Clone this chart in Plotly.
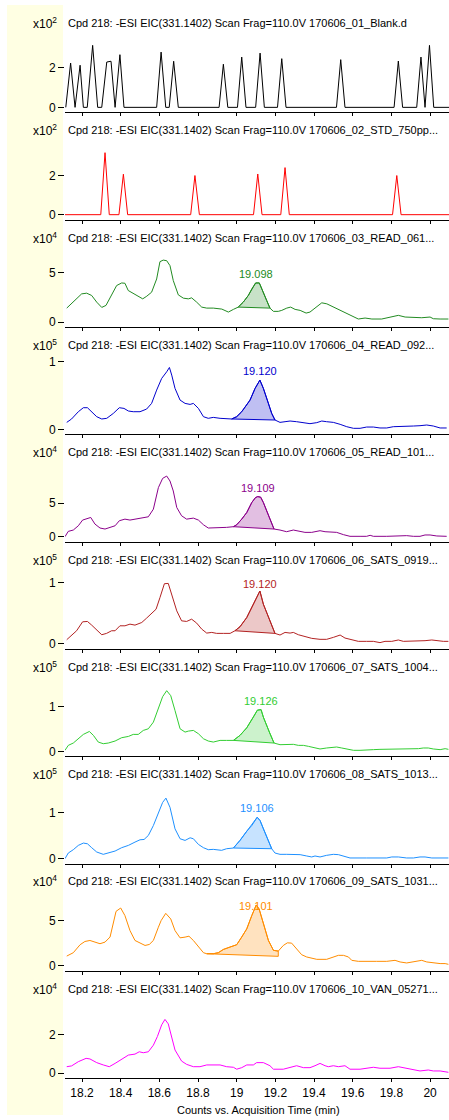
import plotly.graph_objects as go

# ---------------- data ----------------
TITLE_PREFIX = "Cpd 218: -ESI EIC(331.1402) Scan Frag=110.0V "
SAMPLES = [
    "170606_01_Blank.d",
    "170606_02_STD_750pp...",
    "170606_03_READ_061...",
    "170606_04_READ_092...",
    "170606_05_READ_101...",
    "170606_06_SATS_0919...",
    "170606_07_SATS_1004...",
    "170606_08_SATS_1013...",
    "170606_09_SATS_1031...",
    "170606_10_VAN_05271...",
]
EXPONENTS = [2, 2, 4, 5, 4, 5, 5, 5, 4, 4]
Y_TICK_TOP = [2, 2, 5, 1, 5, 1, 1, 1, 5, 2]
Y_TOP = [3.5, 3.59, 7.0, 1.03, 10.4, 1.136, 1.556, 1.502, 7.67, 3.59]
COLORS = ["#000000", "#ff0000", "#228b22", "#0000cd", "#8b008b",
          "#b22222", "#32cd32", "#1e90ff", "#ff8c00", "#ff00ff"]

X_TICKS = [18.2, 18.4, 18.6, 18.8, 19.0, 19.2, 19.4, 19.6, 19.8, 20.0]
X_TICK_TEXT = ["18.2", "18.4", "18.6", "18.8", "19", "19.2", "19.4", "19.6", "19.8", "20"]

# 01 Blank
T01 = [18.116, 18.141, 18.164, 18.190, 18.207, 18.227, 18.255, 18.281, 18.302, 18.328,
       18.350, 18.371, 18.396, 18.417, 18.586, 18.609, 18.633, 18.651, 18.674, 18.698,
       18.909, 18.931, 18.954, 19.004, 19.026, 19.048, 19.098, 19.121, 19.143, 19.211,
       19.233, 19.255, 19.516, 19.538, 19.560, 19.814, 19.836, 19.858, 19.931, 19.953,
       19.974, 19.997, 20.019, 20.098]
I01 = [0, 2.23, 0, 2.12, 0, 0, 3.12, 0, 0, 2.28,
       2.32, 0, 2.65, 0, 0, 2.78, 0, 0, 2.32, 0,
       0, 2.17, 0, 0, 2.53, 0, 0, 2.73, 0, 0,
       2.45, 0, 0, 2.40, 0, 0, 2.33, 0, 0, 2.53,
       0, 3.12, 0, 0]

# 02 STD
T02 = [18.112, 18.297, 18.319, 18.341, 18.391, 18.414, 18.436, 18.762, 18.784, 18.807,
       19.087, 19.109, 19.131, 19.228, 19.250, 19.272, 19.806, 19.828, 19.850, 20.098]
I02 = [0, 0, 3.20, 0, 0, 2.09, 0, 0, 2.02, 0,
       0, 2.10, 0, 0, 2.43, 0, 0, 2.02, 0, 0]

# 03 READ_061
T03 = [18.121, 18.164, 18.198, 18.224, 18.250, 18.276, 18.302, 18.324, 18.350, 18.379,
       18.405, 18.422, 18.439, 18.465, 18.514, 18.535, 18.560, 18.586, 18.603, 18.620,
       18.638, 18.655, 18.672, 18.698, 18.724, 18.750, 18.767, 18.793, 18.819, 18.845,
       18.879, 18.923, 18.957, 18.983, 19.008, 19.034, 19.060, 19.078, 19.098, 19.117,
       19.135, 19.155, 19.172, 19.190, 19.215, 19.233, 19.259, 19.279, 19.302, 19.328,
       19.359, 19.379, 19.405, 19.440, 19.466, 19.500, 19.535, 19.569, 19.603, 19.629,
       19.664, 19.699, 19.750, 19.793, 19.836, 19.871, 19.914, 19.957, 20.000, 20.017,
       20.052, 20.095]
I03 = [1.40, 2.17, 2.83, 2.90, 2.67, 2.00, 1.47, 1.67, 2.67, 3.67,
       3.93, 3.90, 3.17, 2.90, 2.33, 2.60, 3.00, 4.33, 6.07, 6.23,
       6.17, 5.67, 4.17, 2.73, 2.40, 2.33, 2.43, 2.00, 1.50, 1.40,
       1.40, 1.30, 1.00, 1.27, 1.50, 2.00, 2.67, 3.33, 3.93, 3.93,
       3.00, 2.17, 1.40, 1.07, 1.07, 1.17, 1.40, 1.50, 1.27, 1.17,
       0.90, 1.00, 1.40, 1.93, 1.83, 1.50, 1.17, 0.83, 0.50, 0.30,
       0.40, 0.30, 0.30, 0.50, 0.67, 0.50, 0.43, 0.43, 0.50, 0.33,
       0.30, 0.30]

# 04 READ_092
T04 = [18.121, 18.146, 18.181, 18.207, 18.228, 18.250, 18.276, 18.302, 18.328, 18.362,
       18.393, 18.417, 18.440, 18.465, 18.500, 18.534, 18.560, 18.586, 18.612, 18.638,
       18.652, 18.664, 18.681, 18.707, 18.733, 18.759, 18.776, 18.802, 18.828, 18.853,
       18.879, 18.914, 18.948, 18.974, 19.000, 19.026, 19.069, 19.095, 19.120, 19.138,
       19.164, 19.181, 19.198, 19.224, 19.250, 19.276, 19.310, 19.345, 19.379, 19.414,
       19.440, 19.465, 19.500, 19.535, 19.569, 19.604, 19.638, 19.672, 19.707, 19.741,
       19.776, 19.810, 19.845, 19.879, 19.914, 19.948, 19.983, 20.017, 20.052, 20.086]
I04 = [0.103, 0.153, 0.261, 0.320, 0.320, 0.261, 0.187, 0.153, 0.163, 0.236,
       0.320, 0.310, 0.271, 0.261, 0.261, 0.300, 0.384, 0.581, 0.754, 0.852,
       0.916, 0.803, 0.606, 0.433, 0.384, 0.369, 0.384, 0.310, 0.187, 0.163,
       0.177, 0.163, 0.163, 0.153, 0.187, 0.261, 0.433, 0.606, 0.729, 0.606,
       0.384, 0.236, 0.138, 0.103, 0.113, 0.123, 0.113, 0.103, 0.084, 0.099,
       0.123, 0.113, 0.103, 0.074, 0.039, 0.015, 0.015, 0.034, 0.034, 0.020,
       0.020, 0.039, 0.039, 0.039, 0.049, 0.054, 0.064, 0.049, 0.020, 0.020]

# 05 READ_101
T05 = [18.112, 18.129, 18.155, 18.181, 18.203, 18.224, 18.245, 18.267, 18.293, 18.319,
       18.345, 18.371, 18.393, 18.422, 18.448, 18.483, 18.517, 18.543, 18.569, 18.595,
       18.617, 18.638, 18.655, 18.672, 18.690, 18.715, 18.741, 18.776, 18.802, 18.828,
       18.853, 18.879, 18.914, 18.948, 18.983, 19.000, 19.026, 19.052, 19.078, 19.097,
       19.109, 19.124, 19.138, 19.164, 19.193, 19.224, 19.258, 19.293, 19.328, 19.353,
       19.388, 19.431, 19.457, 19.483, 19.517, 19.552, 19.586, 19.638, 19.672, 19.690,
       19.707, 19.776, 19.845, 19.879, 19.914, 19.948, 19.974, 20.000, 20.035, 20.086]
I05 = [0.00, 0.79, 0.99, 1.63, 2.48, 2.62, 2.87, 1.88, 1.29, 1.14,
       1.39, 1.63, 2.38, 2.62, 2.48, 2.62, 2.77, 2.97, 4.11, 7.33,
       8.71, 9.06, 8.32, 6.83, 4.36, 3.12, 2.62, 2.77, 2.48, 1.78,
       1.29, 1.29, 1.39, 1.39, 1.49, 1.78, 2.62, 3.61, 5.10, 5.84,
       5.99, 5.90, 5.10, 3.12, 1.14, 0.99, 0.74, 0.99, 0.79, 0.64,
       0.64, 0.89, 0.74, 0.74, 0.64, 0.30, 0.05, 0.05, 0.05, 0.20,
       0.05, 0.05, 0.10, 0.15, 0.05, 0.05, 0.25, 0.25, 0.10, 0.05]

# 06 SATS_0919
T06 = [18.121, 18.146, 18.172, 18.203, 18.228, 18.250, 18.276, 18.302, 18.327, 18.353,
       18.371, 18.396, 18.422, 18.448, 18.474, 18.509, 18.534, 18.560, 18.583, 18.603,
       18.626, 18.646, 18.664, 18.690, 18.715, 18.741, 18.767, 18.793, 18.819, 18.845,
       18.871, 18.896, 18.931, 18.966, 18.991, 19.017, 19.052, 19.083, 19.120, 19.138,
       19.172, 19.198, 19.224, 19.250, 19.276, 19.293, 19.319, 19.353, 19.388, 19.431,
       19.465, 19.500, 19.535, 19.560, 19.586, 19.629, 19.672, 19.707, 19.741, 19.767,
       19.802, 19.836, 19.862, 19.897, 19.940, 19.974, 20.009, 20.035, 20.069, 20.095]
I06 = [0.070, 0.135, 0.216, 0.362, 0.368, 0.308, 0.227, 0.151, 0.173, 0.216,
       0.216, 0.297, 0.297, 0.324, 0.308, 0.351, 0.422, 0.497, 0.568, 0.757,
       0.984, 0.989, 0.811, 0.541, 0.378, 0.368, 0.405, 0.341, 0.243, 0.178,
       0.189, 0.173, 0.173, 0.173, 0.216, 0.281, 0.432, 0.622, 0.865, 0.649,
       0.378, 0.173, 0.146, 0.189, 0.178, 0.189, 0.151, 0.119, 0.092, 0.076,
       0.076, 0.108, 0.146, 0.097, 0.076, 0.043, 0.043, 0.043, 0.022, 0.043,
       0.043, 0.065, 0.043, 0.043, 0.043, 0.054, 0.065, 0.054, 0.043, 0.043]

# 07 SATS_1004
T07 = [18.112, 18.129, 18.155, 18.181, 18.207, 18.238, 18.259, 18.284, 18.310, 18.336,
       18.371, 18.405, 18.440, 18.465, 18.491, 18.517, 18.543, 18.569, 18.595, 18.617,
       18.638, 18.659, 18.681, 18.707, 18.733, 18.750, 18.776, 18.802, 18.828, 18.853,
       18.879, 18.914, 18.948, 18.983, 19.017, 19.052, 19.086, 19.107, 19.126, 19.138,
       19.169, 19.193, 19.224, 19.258, 19.293, 19.319, 19.345, 19.371, 19.405, 19.431,
       19.465, 19.500, 19.517, 19.543, 19.569, 19.604, 19.638, 19.672, 19.707, 19.741,
       19.776, 19.802, 19.836, 19.871, 19.905, 19.940, 19.965, 19.991, 20.017, 20.052,
       20.078, 20.095]
I07 = [0.022, 0.133, 0.185, 0.281, 0.378, 0.444, 0.356, 0.207, 0.170, 0.185,
       0.230, 0.304, 0.333, 0.378, 0.378, 0.467, 0.504, 0.652, 0.985, 1.222,
       1.356, 1.244, 0.911, 0.504, 0.430, 0.452, 0.467, 0.393, 0.281, 0.230,
       0.207, 0.244, 0.244, 0.244, 0.356, 0.526, 0.763, 0.920, 0.933, 0.763,
       0.430, 0.185, 0.148, 0.148, 0.156, 0.133, 0.133, 0.111, 0.074, 0.052,
       0.074, 0.081, 0.096, 0.074, 0.052, 0.022, 0.022, 0.022, 0.037, 0.044,
       0.044, 0.059, 0.052, 0.052, 0.059, 0.059, 0.074, 0.074, 0.052, 0.037,
       0.059, 0.044]

# 08 SATS_1013
T08 = [18.112, 18.129, 18.155, 18.181, 18.207, 18.228, 18.250, 18.276, 18.310, 18.336,
       18.371, 18.405, 18.440, 18.474, 18.500, 18.521, 18.543, 18.569, 18.595, 18.617,
       18.634, 18.655, 18.681, 18.707, 18.733, 18.759, 18.776, 18.802, 18.828, 18.853,
       18.879, 18.905, 18.922, 18.948, 18.983, 19.017, 19.052, 19.078, 19.106, 19.121,
       19.138, 19.164, 19.181, 19.198, 19.224, 19.259, 19.293, 19.328, 19.362, 19.388,
       19.405, 19.431, 19.465, 19.500, 19.526, 19.552, 19.586, 19.672, 19.776, 19.802,
       19.836, 19.879, 19.914, 19.948, 19.974, 20.009, 20.095]
I08 = [0.000, 0.121, 0.193, 0.286, 0.336, 0.321, 0.236, 0.143, 0.093, 0.121,
       0.164, 0.236, 0.286, 0.357, 0.407, 0.414, 0.500, 0.714, 0.964, 1.214,
       1.307, 1.107, 0.643, 0.429, 0.393, 0.450, 0.429, 0.307, 0.236, 0.193,
       0.200, 0.193, 0.179, 0.214, 0.229, 0.393, 0.593, 0.714, 0.893, 0.821,
       0.643, 0.357, 0.214, 0.121, 0.093, 0.093, 0.093, 0.086, 0.057, 0.036,
       0.057, 0.036, 0.071, 0.093, 0.086, 0.057, 0.014, 0.014, 0.014, 0.036,
       0.036, 0.014, 0.014, 0.036, 0.036, 0.014, 0.014]

# 09 SATS_1031
T09 = [18.121, 18.155, 18.190, 18.215, 18.241, 18.267, 18.293, 18.319, 18.345, 18.376,
       18.400, 18.422, 18.448, 18.474, 18.500, 18.526, 18.548, 18.569, 18.595, 18.609,
       18.633, 18.659, 18.681, 18.707, 18.733, 18.753, 18.776, 18.802, 18.828, 18.845,
       18.879, 18.905, 18.931, 18.965, 19.000, 19.026, 19.052, 19.078, 19.101, 19.116,
       19.138, 19.164, 19.190, 19.215, 19.241, 19.262, 19.284, 19.310, 19.336, 19.362,
       19.388, 19.414, 19.465, 19.500, 19.526, 19.552, 19.578, 19.595, 19.629, 19.724,
       19.776, 19.819, 19.845, 19.879, 19.914, 19.957, 19.983, 20.017, 20.052, 20.078,
       20.095]
I09 = [1.09, 1.46, 2.34, 2.70, 2.81, 2.63, 2.45, 2.63, 3.19, 6.02,
       6.39, 5.55, 3.90, 2.81, 2.52, 2.26, 2.37, 2.81, 4.27, 5.00,
       5.80, 5.18, 3.90, 3.10, 3.18, 3.28, 2.81, 2.08, 1.46, 1.35,
       1.35, 1.46, 1.82, 2.08, 2.34, 3.19, 4.09, 5.55, 6.72, 6.28,
       4.64, 2.81, 1.72, 1.64, 2.26, 2.55, 2.52, 1.90, 1.24, 0.99,
       0.88, 0.73, 0.73, 0.99, 1.17, 1.17, 0.99, 0.62, 0.51, 0.51,
       0.51, 0.62, 0.44, 0.33, 0.44, 0.62, 0.44, 0.33, 0.26, 0.26,
       0.18]

# 10 VAN_05271
T10 = [18.121, 18.146, 18.181, 18.221, 18.241, 18.276, 18.310, 18.341, 18.371, 18.405,
       18.440, 18.474, 18.496, 18.517, 18.543, 18.569, 18.590, 18.612, 18.629, 18.646,
       18.664, 18.681, 18.715, 18.741, 18.776, 18.810, 18.845, 18.914, 18.948, 18.983,
       19.000, 19.026, 19.052, 19.086, 19.103, 19.138, 19.172, 19.190, 19.241, 19.276,
       19.310, 19.345, 19.379, 19.405, 19.431, 19.457, 19.474, 19.500, 19.526, 19.560,
       19.586, 19.638, 19.672, 19.707, 19.741, 19.793, 19.836, 19.871, 19.914, 19.948,
       19.991, 20.017, 20.052, 20.095]
I10 = [0.34, 0.38, 0.60, 0.77, 0.74, 0.55, 0.43, 0.34, 0.51, 0.74,
       0.94, 0.99, 1.11, 1.06, 1.11, 1.45, 1.90, 2.50, 2.78, 2.55,
       1.80, 1.20, 0.63, 0.46, 0.34, 0.34, 0.43, 0.43, 0.34, 0.31,
       0.21, 0.29, 0.43, 0.43, 0.55, 0.55, 0.39, 0.21, 0.21, 0.29,
       0.39, 0.29, 0.29, 0.39, 0.51, 0.39, 0.34, 0.39, 0.34, 0.39,
       0.21, 0.21, 0.26, 0.31, 0.26, 0.26, 0.34, 0.26, 0.17, 0.12,
       0.17, 0.12, 0.12, 0.05]

TIMES = [T01, T02, T03, T04, T05, T06, T07, T08, T09, T10]
INTENSITIES = [I01, I02, I03, I04, I05, I06, I07, I08, I09, I10]

# integrated peaks: retention-time label, baseline start/end (time, intensity)
PEAK_RT = [None, None, 19.098, 19.120, 19.109, 19.120, 19.126, 19.106, 19.101, None]
BASE_START = [None, None, (19.008, 1.50), (18.974, 0.153), (18.983, 1.49), (18.991, 0.216),
              (18.983, 0.244), (18.983, 0.229), (18.845, 1.35), None]
BASE_END = [None, None, (19.172, 1.40), (19.198, 0.138), (19.193, 1.14), (19.198, 0.173),
            (19.193, 0.185), (19.181, 0.214), (19.215, 1.06), None]

# ---------------- geometry (pixels) ----------------
FIG_W, FIG_H = 449, 1120
PLOT_LEFT = 65
PANEL_H = 75
ZERO_PAD = 5
X_RANGE = [18.112, 20.098]
FONT = "Liberation Sans, Arial, sans-serif"


def py(px):
    """pixel row -> paper y"""
    return 1 - px / FIG_H


def rgba(hex_color, a):
    h = hex_color.lstrip("#")
    r, g, b = int(h[0:2], 16), int(h[2:4], 16), int(h[4:6], 16)
    return f"rgba({r},{g},{b},{a})"


fig = go.Figure()
annotations = []
layout = {}

for k in range(10):
    n = k + 1
    xname = "x" if n == 1 else f"x{n}"
    yname = "y" if n == 1 else f"y{n}"
    axis_px = 108 * n
    top_px = axis_px - PANEL_H
    ytop = Y_TOP[k]
    ymin = -ytop * ZERO_PAD / (PANEL_H - ZERO_PAD)
    col = COLORS[k]

    layout["xaxis" if n == 1 else f"xaxis{n}"] = dict(
        domain=[PLOT_LEFT / FIG_W, 1], anchor=yname, range=X_RANGE,
        showline=True, linecolor="black", linewidth=1, mirror=False,
        ticks="outside", ticklen=3, tickwidth=1, tickcolor="black",
        tickvals=X_TICKS, ticktext=X_TICK_TEXT,
        showticklabels=(n == 10), tickfont=dict(family=FONT, size=12, color="black"),
        showgrid=False, zeroline=False, fixedrange=True,
        **({} if n == 1 else {"matches": "x"}),
    )
    layout["yaxis" if n == 1 else f"yaxis{n}"] = dict(
        domain=[py(axis_px), py(top_px)], anchor=xname, range=[ymin, ytop],
        showline=False, showgrid=False, zeroline=False,
        ticks="outside", ticklen=6, tickwidth=1, tickcolor="black",
        tickvals=[0, Y_TICK_TOP[k]], ticktext=["0", str(Y_TICK_TOP[k])],
        tickfont=dict(family=FONT, size=12, color="black"), fixedrange=True,
    )

    # integrated peak area
    if PEAK_RT[k] is not None:
        ts, bs = BASE_START[k]
        te, be = BASE_END[k]
        seg = [(t, v) for t, v in zip(TIMES[k], INTENSITIES[k]) if ts <= t <= te]
        poly_t = [p[0] for p in seg] + [te, ts]
        poly_v = [p[1] for p in seg] + [be, bs]
        fig.add_trace(go.Scatter(
            x=poly_t, y=poly_v, xaxis=xname, yaxis=yname, mode="lines",
            fill="toself", fillcolor=rgba(col, 0.25),
            line=dict(color=col, width=1), hoverinfo="skip"))

        apex = max(p[1] for p in seg)
        s = (PANEL_H - ZERO_PAD) / ytop
        apex_px = axis_px - ZERO_PAD - apex * s
        label_px = max(apex_px - 9, axis_px - 65)
        annotations.append(dict(
            xref=xname, yref="paper", x=PEAK_RT[k], y=py(label_px),
            text=f"{PEAK_RT[k]:.3f}", showarrow=False, xanchor="center", yanchor="middle",
            font=dict(family=FONT, size=11, color=col)))

    fig.add_trace(go.Scatter(
        x=TIMES[k], y=INTENSITIES[k], xaxis=xname, yaxis=yname, mode="lines",
        line=dict(color=col, width=1)))

    # panel heading and exponent
    title_px = axis_px - 90
    annotations.append(dict(
        xref="paper", yref="paper", x=(PLOT_LEFT + 1) / FIG_W, y=py(title_px),
        text=TITLE_PREFIX + SAMPLES[k], showarrow=False, xanchor="left", yanchor="middle",
        font=dict(family=FONT, size=11, color="black")))
    annotations.append(dict(
        xref="paper", yref="paper", x=59 / FIG_W, y=py(title_px),
        text=f"x10<sup>{EXPONENTS[k]}</sup>", showarrow=False, xanchor="right",
        yanchor="middle", font=dict(family=FONT, size=12, color="black")))

annotations.append(dict(
    xref="paper", yref="paper", x=258 / FIG_W, y=py(1112),
    text="Counts vs. Acquisition Time (min)", showarrow=False,
    xanchor="center", yanchor="middle", font=dict(family=FONT, size=11, color="black")))

fig.update_layout(
    width=FIG_W, height=FIG_H, margin=dict(l=0, r=0, t=0, b=0),
    paper_bgcolor="white", plot_bgcolor="rgba(0,0,0,0)", showlegend=False,
    annotations=annotations,
    shapes=[dict(type="rect", xref="paper", yref="paper",
                 x0=7 / FIG_W, x1=63 / FIG_W, y0=py(1117), y1=1,
                 fillcolor="#ffffe3", line=dict(width=0), layer="below")],
    **layout,
)

fig.write_html("out.html")
